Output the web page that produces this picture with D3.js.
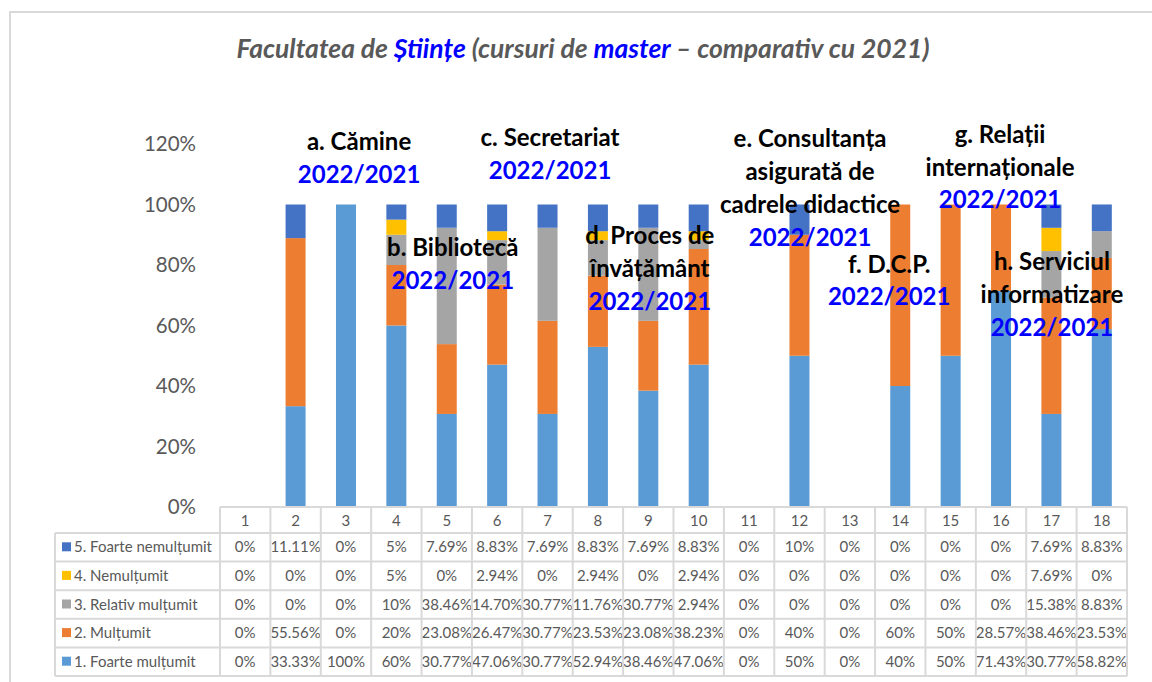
<!DOCTYPE html>
<html>
<head>
<meta charset="utf-8">
<script src="https://cdn.jsdelivr.net/npm/d3@7"></script>
<style>
  body { margin: 0; background: #fff; }
  text { font-family: Lato, "Open Sans", sans-serif; }
</style>
</head>
<body>
<script>
// data
var categories = ["1","2","3","4","5","6","7","8","9","10","11","12","13","14","15","16","17","18"]
var seriesNames = ["1. Foarte mulțumit", "2. Mulțumit", "3. Relativ mulțumit", "4. Nemulțumit", "5. Foarte nemulțumit"]
var seriesColors = ["#5B9BD5", "#ED7D31", "#A5A5A5", "#FFC000", "#4472C4"]
var foarteMultumit = [0, 33.33, 100, 60, 30.77, 47.06, 30.77, 52.94, 38.46, 47.06, 0, 50, 0, 40, 50, 71.43, 30.77, 58.82]
var multumit       = [0, 55.56, 0, 20, 23.08, 26.47, 30.77, 23.53, 23.08, 38.23, 0, 40, 0, 60, 50, 28.57, 38.46, 23.53]
var relativ        = [0, 0, 0, 10, 38.46, 14.70, 30.77, 11.76, 30.77, 2.94, 0, 0, 0, 0, 0, 0, 15.38, 8.83]
var nemultumit     = [0, 0, 0, 5, 0, 2.94, 0, 2.94, 0, 2.94, 0, 0, 0, 0, 0, 0, 7.69, 0]
var foarteNem      = [0, 11.11, 0, 5, 7.69, 8.83, 7.69, 8.83, 7.69, 8.83, 0, 10, 0, 0, 0, 0, 7.69, 8.83]
var yTicks = [0, 20, 40, 60, 80, 100, 120]

// overlay annotations: column it sits over, y (in %), black lines; a blue "2022/2021" follows
var notes = [
  {col: 3.26, y: 118.1, lines: ["a. Cămine"]},
  {col: 7.05, y: 119.2, lines: ["c. Secretariat"]},
  {col: 5.12, y: 82.9, lines: ["b. Bibliotecă"]},
  {col: 9.03, y: 86.8, lines: ["d. Proces de", "învățământ"]},
  {col: 12.21, y: 118.9, lines: ["e. Consultanța", "asigurată de", "cadrele didactice"]},
  {col: 13.78, y: 77.5, lines: ["f. D.C.P."]},
  {col: 15.98, y: 120.4, lines: ["g. Relații", "internaționale"]},
  {col: 17.01, y: 78.3, lines: ["h. Serviciul", "informatizare"]}
]

var series = [foarteMultumit, multumit, relativ, nemultumit, foarteNem]
var rows = categories.map(function(c, i){
  var r = {cat: c}
  series.forEach(function(s, k){ r[seriesNames[k]] = s[i] })
  return r
})

var W = 1152, H = 682
var svg = d3.select("body").append("svg").attr("width", W).attr("height", H)

// chart border
svg.append("path")
  .attr("d", "M10,682 V12 H1152")
  .attr("fill", "none").attr("stroke", "#d9d9d9").attr("stroke-width", 2)

var x = d3.scaleBand().domain(categories).range([220, 1127]).paddingInner(0).paddingOuter(0)
var y = d3.scaleLinear().domain([0, 120]).range([507, 144])

// title
var title = svg.append("text")
  .attr("x", 583).attr("y", 58).attr("text-anchor", "middle")
  .style("font-size", "26.5px").style("font-weight", "bold").style("font-style", "italic")
  .attr("fill", "#595959")
title.append("tspan").text("Facultatea de ")
title.append("tspan").text("Științe").attr("fill", "#0000FF")
title.append("tspan").text(" (cursuri de ")
title.append("tspan").text("master").attr("fill", "#0000FF")
title.append("tspan").text("  – comparativ cu 2021)")

// y axis labels
svg.selectAll("ylab").data(yTicks).enter().append("text")
  .attr("x", 196).attr("y", function(d){ return y(d) + 7 })
  .attr("text-anchor", "end")
  .style("font-size", "20.5px").attr("fill", "#595959")
  .text(function(d){ return d + "%" })

// stacked bars
var stack = d3.stack().keys(seriesNames)(rows)
var bw = 20
svg.selectAll("layer").data(stack).enter().append("g")
  .attr("fill", function(d, i){ return seriesColors[i] })
  .selectAll("rect").data(function(d){ return d }).enter().append("rect")
    .attr("x", function(d){ return x(d.data.cat) + x.bandwidth()/2 - bw/2 })
    .attr("width", bw)
    .attr("y", function(d){ return y(d[1]) })
    .attr("height", function(d){ return y(d[0]) - y(d[1]) })

// data table
var rowH = 28.6
var tTop = 507, headH = 26
var tbl = svg.append("g")
var gridCol = "#d9d9d9"
var fs = "15px"
// header row
tbl.selectAll("hd").data(categories).enter().append("text")
  .attr("x", function(d){ return x(d) + x.bandwidth()/2 })
  .attr("y", tTop + 19).attr("text-anchor", "middle")
  .style("font-size", fs).attr("fill", "#595959")
  .text(function(d){ return d })
// rows, top row is series 5
var order = [4, 3, 2, 1, 0]
order.forEach(function(k, r){
  var y0 = tTop + headH + r*rowH
  tbl.append("rect").attr("x", 62).attr("y", y0 + rowH/2 - 5).attr("width", 9).attr("height", 9)
    .attr("fill", seriesColors[k])
  tbl.append("text").attr("x", 74).attr("y", y0 + rowH/2 + 5)
    .style("font-size", fs).attr("fill", "#595959").text(seriesNames[k])
  tbl.selectAll("cell" + k).data(series[k]).enter().append("text")
    .attr("x", function(d, i){ return x(categories[i]) + x.bandwidth()/2 })
    .attr("y", y0 + rowH/2 + 5).attr("text-anchor", "middle")
    .style("font-size", fs).attr("fill", "#595959")
    .text(function(d){ return (d % 1 === 0 ? d : d.toFixed(2)) + "%" })
})
var bottom = tTop + headH + 5*rowH
// horizontal lines
var hl = [tTop].concat(d3.range(6).map(function(r){ return tTop + headH + r*rowH }))
tbl.selectAll("hl").data(hl).enter().append("line")
  .attr("x1", function(d, i){ return i === 0 ? 220 : 55 }).attr("x2", 1127)
  .attr("y1", function(d){ return d }).attr("y2", function(d){ return d })
  .attr("stroke", gridCol).attr("stroke-width", 2)
// vertical lines
var vl = categories.map(function(c){ return x(c) }).concat([1127])
tbl.selectAll("vl").data(vl).enter().append("line")
  .attr("x1", function(d){ return d }).attr("x2", function(d){ return d })
  .attr("y1", tTop).attr("y2", bottom)
  .attr("stroke", gridCol).attr("stroke-width", 2)
tbl.append("line").attr("x1", 55).attr("x2", 55).attr("y1", tTop + headH).attr("y2", bottom)
  .attr("stroke", gridCol).attr("stroke-width", 2)

// annotations
var lineH = 32.8
notes.forEach(function(n){
  var cx = x(categories[0]) + (n.col - 0.5) * x.bandwidth()
  var y0 = y(n.y)
  n.lines.forEach(function(t, j){
    svg.append("text").attr("x", cx).attr("y", y0 + j*lineH)
      .attr("text-anchor", "middle")
      .style("font-size", "24px").style("font-weight", "bold").attr("fill", "#000")
      .text(t)
  })
  svg.append("text").attr("x", cx).attr("y", y0 + n.lines.length*lineH)
    .attr("text-anchor", "middle")
    .style("font-size", "24px").style("font-weight", "bold").attr("fill", "#0000FF")
    .text("2022/2021")
})
</script>
</body>
</html>
